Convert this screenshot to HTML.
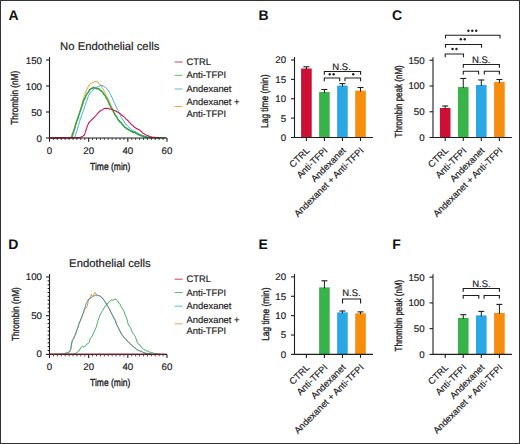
<!DOCTYPE html><html><head><meta charset="utf-8"><style>html,body{margin:0;padding:0;background:#fff}svg{display:block}text{font-family:"Liberation Sans",sans-serif;text-rendering:geometricPrecision}</style></head><body>
<svg width="520" height="444" viewBox="0 0 520 444">
<rect x="0" y="0" width="520" height="444" fill="#fff"/>
<text x="8.4" y="20.4" font-size="14" font-weight="bold" fill="#111">A</text>
<text x="258.6" y="20.2" font-size="14" font-weight="bold" fill="#111">B</text>
<text x="392.0" y="20.2" font-size="14" font-weight="bold" fill="#111">C</text>
<text x="8.2" y="249.3" font-size="14" font-weight="bold" fill="#111">D</text>
<text x="258.6" y="249.3" font-size="14" font-weight="bold" fill="#111">E</text>
<text x="392.2" y="249.3" font-size="14" font-weight="bold" fill="#111">F</text>
<polyline points="49.50,138.00 50.32,137.98 51.14,137.97 51.96,137.95 52.78,137.94 53.60,137.92 54.42,137.91 55.23,137.89 56.05,137.88 56.87,137.86 57.69,137.85 58.51,137.83 59.33,137.82 60.15,137.80 60.97,137.78 61.79,137.77 62.61,137.75 63.43,137.74 64.25,137.72 65.07,137.71 65.88,137.69 66.70,137.68 67.52,137.66 68.34,137.65 69.16,137.63 69.98,137.62 70.80,137.60 71.03,136.72 71.31,136.10 71.67,135.25 72.00,134.22 72.29,133.42 72.52,132.65 72.97,132.04 73.14,131.10 73.59,130.56 73.76,129.73 73.96,129.12 74.29,128.25 74.53,127.08 74.95,126.35 75.18,125.47 75.42,124.89 75.63,124.03 75.94,122.98 76.24,122.52 76.53,121.57 76.73,120.88 77.07,120.28 77.31,119.24 77.63,118.61 77.77,117.95 77.99,117.31 78.38,116.26 78.58,115.36 78.88,114.54 79.11,114.13 79.31,113.37 79.60,112.47 79.82,111.60 80.16,110.91 80.35,109.92 80.60,108.89 80.90,108.37 81.01,107.66 81.33,106.64 81.54,105.66 81.72,104.93 82.10,104.08 82.25,103.31 82.59,102.55 82.73,101.49 83.04,100.82 83.25,100.06 83.38,98.89 83.73,98.17 83.84,97.70 84.11,96.55 84.42,95.81 84.63,95.23 84.91,94.17 85.20,93.59 85.47,93.12 85.71,92.14 85.86,91.45 86.26,90.80 86.69,90.02 87.04,89.00 87.51,88.09 87.83,87.30 88.28,86.60 88.68,85.89 89.13,84.95 89.79,84.46 90.51,83.88 90.99,83.64 91.65,82.92 92.22,82.43 93.17,82.44 93.83,82.02 94.52,81.59 95.50,81.52 96.43,81.56 97.36,81.79 97.96,82.68 98.71,83.32 99.50,83.99 100.04,84.83 100.57,85.21 101.25,85.83 101.73,86.77 102.09,87.41 102.72,88.41 103.16,89.18 103.53,89.94 103.87,90.43 104.16,91.28 104.59,91.90 105.06,92.80 105.39,93.93 105.88,94.69 106.14,95.46 106.50,95.86 106.87,96.62 107.40,97.60 107.70,98.47 108.14,99.16 108.49,99.65 108.90,100.84 109.22,101.55 109.66,102.04 109.98,102.88 110.21,103.97 110.64,104.45 110.80,105.38 111.11,105.85 111.56,107.00 111.94,107.55 112.28,108.89 112.63,109.50 112.90,110.32 113.45,111.55 113.92,112.15 114.32,112.92 114.61,113.93 115.04,114.46 115.52,115.27 116.00,116.05 116.62,116.75 117.04,117.63 117.65,118.51 118.17,119.19 118.61,120.00 119.02,120.65 119.57,121.24 120.21,121.65 120.66,122.37 121.19,123.28 121.70,123.71 122.39,124.48 122.98,124.90 123.56,125.62 124.23,126.54 124.92,127.08 125.49,127.91 126.28,128.30 127.10,128.79 127.85,129.30 128.71,129.85 129.48,130.50 130.22,131.02 131.22,131.23 131.93,131.77 132.91,131.79 133.80,132.14 134.81,132.51 135.78,133.24 136.50,133.35 137.15,134.02 138.07,134.55 138.83,134.64 139.50,135.15 140.35,135.70 141.05,135.55 141.81,135.99 142.58,136.09 143.30,136.61 144.34,136.78 145.27,136.76 146.25,137.25 147.20,137.50 148.00,137.55 148.80,137.60 149.60,137.65 150.40,137.70 151.20,137.75 152.00,137.80" fill="none" stroke="#f68d0c" stroke-width="1.0" stroke-linejoin="round" stroke-linecap="round"/>
<polyline points="49.50,138.00 50.32,137.99 51.13,137.97 51.95,137.96 52.76,137.95 53.58,137.94 54.40,137.92 55.21,137.91 56.03,137.90 56.85,137.88 57.66,137.87 58.48,137.86 59.29,137.85 60.11,137.83 60.93,137.82 61.74,137.81 62.56,137.79 63.37,137.78 64.19,137.77 65.01,137.75 65.82,137.74 66.64,137.73 67.45,137.72 68.27,137.70 69.09,137.69 69.90,137.68 70.72,137.66 71.54,137.65 72.35,137.64 73.17,137.63 73.98,137.61 74.80,137.60 75.05,136.87 75.39,135.80 75.63,135.38 75.73,134.25 76.08,133.43 76.19,132.75 76.59,132.04 76.71,131.45 77.08,130.32 77.27,129.72 77.38,128.67 77.69,128.16 78.02,127.04 78.23,126.51 78.47,125.43 78.71,124.61 78.83,123.99 79.19,123.23 79.29,122.31 79.57,121.67 79.82,120.70 80.09,119.90 80.37,119.26 80.63,118.71 80.87,117.82 81.10,116.97 81.36,116.15 81.73,115.62 81.97,114.58 82.16,114.19 82.49,113.36 82.87,112.33 83.10,111.41 83.50,110.69 83.77,109.65 84.03,108.97 84.27,107.95 84.50,106.95 84.89,106.13 85.05,105.39 85.45,104.48 85.69,104.04 85.88,102.92 86.19,102.10 86.48,101.25 86.87,100.53 87.07,100.11 87.44,98.97 87.61,98.23 87.90,97.30 88.21,96.76 88.50,95.85 88.95,94.99 89.48,94.26 89.90,93.47 90.45,92.84 91.01,92.21 91.53,91.53 92.20,90.89 92.71,90.10 93.29,89.78 94.01,89.03 94.67,88.07 95.40,88.12 96.21,87.67 96.93,86.99 97.77,86.80 98.54,86.65 99.33,86.24 100.06,85.99 100.71,85.46 101.92,85.62 103.17,85.80 103.90,86.50 104.69,87.01 105.33,87.42 106.25,88.05 106.78,88.58 107.26,89.33 107.88,90.04 108.45,90.39 108.82,91.48 109.36,92.25 109.63,92.90 110.07,93.66 110.44,94.57 110.72,95.27 111.13,95.79 111.53,96.85 111.85,97.53 112.29,98.05 112.76,99.12 113.06,99.89 113.44,100.61 113.71,101.38 114.07,102.40 114.56,103.24 114.81,103.56 115.25,104.76 115.45,105.37 115.97,106.02 116.28,106.79 116.65,107.52 116.96,108.69 117.42,109.39 117.84,110.19 118.22,110.64 118.39,111.54 118.83,112.07 119.13,113.06 119.48,113.68 119.93,114.54 120.25,115.15 120.58,116.33 121.16,117.13 121.54,117.88 122.02,118.38 122.52,119.45 122.95,119.91 123.33,120.65 123.95,121.34 124.43,122.21 124.75,122.97 125.31,123.68 126.04,124.19 126.59,125.02 127.18,125.47 127.73,126.24 128.25,126.75 128.95,127.38 129.61,128.01 130.11,128.39 130.88,129.29 131.67,129.64 132.50,130.12 133.15,131.04 133.94,131.26 134.74,131.59 135.47,131.77 136.40,132.17 137.04,132.70 137.92,133.35 138.48,133.57 139.19,133.90 139.92,134.42 140.79,134.67 141.74,135.13 142.48,135.52 143.34,135.66 144.13,135.94 144.96,136.08 145.76,136.70 146.69,136.64 147.44,136.98 148.28,136.85 149.16,137.08 150.00,137.30 150.86,137.37 151.71,137.44 152.57,137.51 153.43,137.59 154.29,137.66 155.14,137.73 156.00,137.80" fill="none" stroke="#2aa8e6" stroke-width="1.0" stroke-linejoin="round" stroke-linecap="round"/>
<polyline points="49.50,138.00 50.33,137.99 51.15,137.97 51.98,137.96 52.80,137.94 53.63,137.93 54.46,137.91 55.28,137.90 56.11,137.88 56.93,137.87 57.76,137.85 58.59,137.84 59.41,137.82 60.24,137.81 61.06,137.79 61.89,137.78 62.71,137.76 63.54,137.75 64.37,137.73 65.19,137.72 66.02,137.70 66.84,137.69 67.67,137.67 68.50,137.66 69.32,137.64 70.15,137.63 70.97,137.61 71.80,137.60 72.18,137.27 72.10,136.40 72.62,134.77 72.77,134.84 72.82,133.74 73.44,132.76 73.65,132.40 73.65,131.76 73.86,130.11 74.32,129.71 74.58,129.32 74.84,128.21 75.00,127.21 75.34,125.98 75.63,125.37 75.63,124.97 75.86,123.64 76.28,123.34 76.29,122.05 76.75,121.69 76.86,120.79 77.04,120.23 77.48,119.17 77.81,119.06 78.00,118.22 78.17,116.80 78.61,116.76 78.59,115.34 79.11,114.76 79.20,113.92 79.74,113.35 79.66,112.09 80.09,111.38 80.27,110.91 80.76,110.21 80.82,109.10 81.13,108.74 81.37,107.77 81.86,106.36 82.21,105.61 82.17,105.00 82.51,103.94 82.97,103.59 82.99,102.29 83.46,101.57 83.34,100.71 83.71,99.85 84.15,99.90 84.67,98.90 84.87,98.26 85.57,96.69 85.60,96.55 86.13,95.76 86.50,94.77 86.75,93.87 87.28,93.28 87.57,93.26 88.00,92.56 88.63,91.26 89.07,91.10 89.69,89.71 90.47,89.41 90.85,88.61 91.31,88.70 92.40,88.01 92.87,88.17 93.65,87.23 94.50,87.92 95.53,88.05 96.06,87.94 96.97,88.86 97.79,88.46 98.39,88.89 99.35,88.95 100.08,90.24 100.61,90.64 101.37,90.61 102.13,92.01 102.43,92.11 103.10,92.83 103.55,94.10 104.35,94.75 104.93,95.55 105.33,96.11 105.73,96.59 106.00,97.82 106.65,98.00 106.76,98.81 107.34,99.37 107.89,100.43 108.28,101.80 108.30,102.00 108.85,102.65 109.21,104.08 109.58,104.42 110.07,105.62 110.56,106.50 110.68,107.16 111.17,108.09 111.62,108.57 111.96,109.49 112.40,109.75 113.08,110.42 113.29,111.62 113.98,112.21 114.11,113.09 114.70,114.17 114.91,115.12 115.63,115.37 116.18,116.51 116.45,116.47 116.93,117.32 117.60,118.94 118.03,119.66 118.58,120.37 119.23,120.39 119.48,121.71 120.20,122.00 120.61,122.25 121.06,122.81 121.74,123.55 122.21,124.60 122.90,124.61 123.47,125.93 124.11,126.21 124.89,127.35 125.34,127.26 126.30,128.14 126.90,128.92 127.92,128.98 128.53,129.77 129.58,130.21 130.29,130.61 131.10,131.06 132.20,131.96 132.80,131.84 133.73,132.58 134.94,132.23 135.83,133.02 136.61,133.43 137.09,133.90 138.00,133.87 138.90,134.92 139.55,134.79 140.28,135.33 140.97,135.37 142.01,136.00 142.62,135.85 143.59,136.80 144.20,136.45 145.49,137.44 146.25,137.25 147.20,137.50 148.00,137.55 148.80,137.60 149.60,137.65 150.40,137.70 151.20,137.75 152.00,137.80 152.81,137.80 153.62,137.80 154.44,137.80 155.25,137.80 156.06,137.80 156.88,137.80 157.69,137.80 158.50,137.80 159.31,137.80 160.12,137.80 160.94,137.80 161.75,137.80 162.56,137.80 163.38,137.80 164.19,137.80 165.00,137.80" fill="none" stroke="#2fa545" stroke-width="1.5" stroke-linejoin="round" stroke-linecap="round"/>
<polyline points="49.50,138.00 50.32,137.99 51.14,137.98 51.96,137.97 52.78,137.96 53.59,137.95 54.41,137.94 55.23,137.92 56.05,137.91 56.87,137.90 57.69,137.89 58.51,137.88 59.33,137.87 60.15,137.86 60.96,137.85 61.78,137.84 62.60,137.83 63.42,137.82 64.24,137.81 65.06,137.79 65.88,137.78 66.70,137.77 67.52,137.76 68.34,137.75 69.15,137.74 69.97,137.73 70.79,137.72 71.61,137.71 72.43,137.70 73.25,137.69 74.07,137.68 74.89,137.66 75.71,137.65 76.52,137.64 77.34,137.63 78.16,137.62 78.98,137.61 79.80,137.60 80.53,137.23 81.18,136.86 81.98,136.71 82.86,136.14 83.60,135.53 84.44,134.94 84.82,133.99 84.94,133.43 85.23,132.36 85.48,131.74 85.70,130.78 86.08,130.31 86.26,129.19 86.41,128.76 86.67,128.02 87.01,127.12 87.21,126.35 87.52,125.46 87.91,124.71 88.24,123.97 88.65,123.01 88.95,122.49 89.70,122.01 90.22,121.24 90.84,120.63 91.55,119.83 92.19,119.20 92.71,118.79 93.32,118.23 94.06,117.66 94.51,116.93 95.18,116.30 95.64,115.89 96.33,115.21 96.81,114.52 97.36,113.61 97.87,113.13 98.23,112.71 99.16,112.07 99.82,111.13 100.56,110.90 101.35,110.40 102.10,109.96 103.03,109.40 103.68,108.85 104.46,108.60 105.26,108.34 106.24,108.38 107.05,108.61 107.86,108.33 108.78,108.48 109.72,108.92 110.74,109.21 111.78,109.24 112.56,109.32 113.20,109.90 113.93,110.31 114.76,110.73 115.55,110.73 116.22,111.23 116.97,111.84 117.79,112.34 118.72,112.71 119.43,113.14 119.93,113.52 120.60,113.90 121.29,114.71 122.01,115.17 122.51,115.50 123.10,116.28 123.82,116.58 124.47,117.27 125.17,117.96 125.74,118.78 126.44,119.43 127.19,119.82 127.66,120.51 128.39,121.06 129.06,122.09 129.59,122.48 130.30,122.92 130.87,123.83 131.54,124.52 132.25,125.32 132.93,125.62 133.51,126.17 134.10,127.00 134.86,127.48 135.58,127.82 136.26,128.65 137.12,128.65 137.89,129.17 138.57,129.69 139.36,129.80 140.18,130.31 140.84,131.31 141.57,131.55 142.13,132.52 142.76,133.12 143.32,133.46 144.07,133.83 144.97,134.24 145.75,134.78 146.39,135.15 147.19,135.43 147.98,135.84 148.79,135.88 149.48,136.53 150.22,136.79 151.05,136.78 152.16,137.12 153.02,137.22 154.03,137.20 155.00,137.30 155.95,137.45 156.90,137.60 157.85,137.75 158.80,137.90" fill="none" stroke="#c51a55" stroke-width="1.1" stroke-linejoin="round" stroke-linecap="round"/>
<line x1="49.5" y1="57.0" x2="49.5" y2="138.5" stroke="#1e1e1e" stroke-width="1.1"/>
<line x1="46" y1="138.0" x2="49.5" y2="138.0" stroke="#1e1e1e" stroke-width="1.1"/>
<text x="42.0" y="141.6" font-size="9.7" text-anchor="end" fill="#222" stroke="#222" stroke-width="0.18" >0</text>
<line x1="46" y1="112.0" x2="49.5" y2="112.0" stroke="#1e1e1e" stroke-width="1.1"/>
<text x="42.0" y="115.6" font-size="9.7" text-anchor="end" fill="#222" stroke="#222" stroke-width="0.18" >50</text>
<line x1="46" y1="86.0" x2="49.5" y2="86.0" stroke="#1e1e1e" stroke-width="1.1"/>
<text x="42.0" y="89.6" font-size="9.7" text-anchor="end" fill="#222" stroke="#222" stroke-width="0.18" >100</text>
<line x1="46" y1="60.0" x2="49.5" y2="60.0" stroke="#1e1e1e" stroke-width="1.1"/>
<text x="42.0" y="63.6" font-size="9.7" text-anchor="end" fill="#222" stroke="#222" stroke-width="0.18" >150</text>
<line x1="49" y1="138" x2="167" y2="138" stroke="#1e1e1e" stroke-width="1.2"/>
<line x1="49.5" y1="138" x2="49.5" y2="141.7" stroke="#1e1e1e" stroke-width="1.1"/>
<text x="49.5" y="153.6" font-size="9.7" text-anchor="middle" fill="#222" stroke="#222" stroke-width="0.18" >0</text>
<line x1="88.66" y1="138" x2="88.66" y2="141.7" stroke="#1e1e1e" stroke-width="1.1"/>
<text x="88.66" y="153.6" font-size="9.7" text-anchor="middle" fill="#222" stroke="#222" stroke-width="0.18" >20</text>
<line x1="127.82" y1="138" x2="127.82" y2="141.7" stroke="#1e1e1e" stroke-width="1.1"/>
<text x="127.82" y="153.6" font-size="9.7" text-anchor="middle" fill="#222" stroke="#222" stroke-width="0.18" >40</text>
<line x1="166.98000000000002" y1="138" x2="166.98000000000002" y2="141.7" stroke="#1e1e1e" stroke-width="1.1"/>
<text x="166.98000000000002" y="153.6" font-size="9.7" text-anchor="middle" fill="#222" stroke="#222" stroke-width="0.18" >60</text>
<line x1="53.416" y1="138" x2="53.416" y2="140.0" stroke="#1e1e1e" stroke-width="0.8"/>
<line x1="57.332" y1="138" x2="57.332" y2="140.0" stroke="#1e1e1e" stroke-width="0.8"/>
<line x1="61.248" y1="138" x2="61.248" y2="140.0" stroke="#1e1e1e" stroke-width="0.8"/>
<line x1="65.164" y1="138" x2="65.164" y2="140.0" stroke="#1e1e1e" stroke-width="0.8"/>
<line x1="69.08" y1="138" x2="69.08" y2="140.0" stroke="#1e1e1e" stroke-width="0.8"/>
<line x1="72.996" y1="138" x2="72.996" y2="140.0" stroke="#1e1e1e" stroke-width="0.8"/>
<line x1="76.912" y1="138" x2="76.912" y2="140.0" stroke="#1e1e1e" stroke-width="0.8"/>
<line x1="80.828" y1="138" x2="80.828" y2="140.0" stroke="#1e1e1e" stroke-width="0.8"/>
<line x1="84.744" y1="138" x2="84.744" y2="140.0" stroke="#1e1e1e" stroke-width="0.8"/>
<line x1="92.576" y1="138" x2="92.576" y2="140.0" stroke="#1e1e1e" stroke-width="0.8"/>
<line x1="96.49199999999999" y1="138" x2="96.49199999999999" y2="140.0" stroke="#1e1e1e" stroke-width="0.8"/>
<line x1="100.408" y1="138" x2="100.408" y2="140.0" stroke="#1e1e1e" stroke-width="0.8"/>
<line x1="104.324" y1="138" x2="104.324" y2="140.0" stroke="#1e1e1e" stroke-width="0.8"/>
<line x1="108.24000000000001" y1="138" x2="108.24000000000001" y2="140.0" stroke="#1e1e1e" stroke-width="0.8"/>
<line x1="112.156" y1="138" x2="112.156" y2="140.0" stroke="#1e1e1e" stroke-width="0.8"/>
<line x1="116.072" y1="138" x2="116.072" y2="140.0" stroke="#1e1e1e" stroke-width="0.8"/>
<line x1="119.988" y1="138" x2="119.988" y2="140.0" stroke="#1e1e1e" stroke-width="0.8"/>
<line x1="123.904" y1="138" x2="123.904" y2="140.0" stroke="#1e1e1e" stroke-width="0.8"/>
<line x1="131.736" y1="138" x2="131.736" y2="140.0" stroke="#1e1e1e" stroke-width="0.8"/>
<line x1="135.652" y1="138" x2="135.652" y2="140.0" stroke="#1e1e1e" stroke-width="0.8"/>
<line x1="139.56799999999998" y1="138" x2="139.56799999999998" y2="140.0" stroke="#1e1e1e" stroke-width="0.8"/>
<line x1="143.48399999999998" y1="138" x2="143.48399999999998" y2="140.0" stroke="#1e1e1e" stroke-width="0.8"/>
<line x1="147.39999999999998" y1="138" x2="147.39999999999998" y2="140.0" stroke="#1e1e1e" stroke-width="0.8"/>
<line x1="151.316" y1="138" x2="151.316" y2="140.0" stroke="#1e1e1e" stroke-width="0.8"/>
<line x1="155.232" y1="138" x2="155.232" y2="140.0" stroke="#1e1e1e" stroke-width="0.8"/>
<line x1="159.148" y1="138" x2="159.148" y2="140.0" stroke="#1e1e1e" stroke-width="0.8"/>
<line x1="163.064" y1="138" x2="163.064" y2="140.0" stroke="#1e1e1e" stroke-width="0.8"/>
<polyline points="49.50,137.80 80.00,137.80" fill="none" stroke="#8a1630" stroke-width="1.1" stroke-linejoin="round" stroke-linecap="round"/>
<text transform="translate(110.25,169.5)" x="-20.15" y="0" font-size="10.2" textLength="40.3" lengthAdjust="spacingAndGlyphs" fill="#222" stroke="#222" stroke-width="0.35">Time (min)</text>
<text transform="translate(18.0,97.75) rotate(-90)" x="-26.90" y="0" font-size="10.2" textLength="53.8" lengthAdjust="spacingAndGlyphs" fill="#222" stroke="#222" stroke-width="0.35">Thrombin (nM)</text>
<text x="60.1" y="49.8" font-size="11.3" text-anchor="start" fill="#222" stroke="#222" stroke-width="0.18" >No Endothelial cells</text>
<line x1="174.6" y1="62" x2="182.6" y2="62" stroke="#cc1034" stroke-width="1" opacity="0.8"/>
<line x1="174.6" y1="75.3" x2="182.6" y2="75.3" stroke="#38b34a" stroke-width="1" opacity="0.8"/>
<line x1="174.6" y1="89" x2="182.6" y2="89" stroke="#2aa8e6" stroke-width="1" opacity="0.8"/>
<line x1="174.6" y1="106.6" x2="182.6" y2="106.6" stroke="#f68d0c" stroke-width="1" opacity="0.8"/>
<text x="186.6" y="64.8" font-size="9.4" text-anchor="start" fill="#222" stroke="#222" stroke-width="0.18" >CTRL</text>
<text x="186.6" y="78.3" font-size="9.4" text-anchor="start" fill="#222" stroke="#222" stroke-width="0.18" >Anti-TFPI</text>
<text x="186.6" y="91.8" font-size="9.4" text-anchor="start" fill="#222" stroke="#222" stroke-width="0.18" >Andexanet</text>
<text x="186.6" y="105.4" font-size="9.4" text-anchor="start" fill="#222" stroke="#222" stroke-width="0.18" >Andexanet +</text>
<text x="186.6" y="116.9" font-size="9.4" text-anchor="start" fill="#222" stroke="#222" stroke-width="0.18" >Anti-TFPI</text>
<polyline points="49.50,354.40 50.31,354.39 51.11,354.38 51.92,354.37 52.72,354.36 53.53,354.34 54.33,354.33 55.14,354.32 55.94,354.31 56.75,354.30 57.56,354.29 58.36,354.28 59.17,354.27 59.97,354.26 60.78,354.24 61.58,354.23 62.39,354.22 63.19,354.21 64.00,354.20 64.87,353.80 65.69,353.63 66.70,352.84 67.50,352.70 68.41,352.35 69.23,351.86 70.09,351.62 70.42,350.46 70.69,349.54 71.13,348.33 71.33,347.33 71.25,346.45 71.60,345.51 71.55,344.74 71.66,343.63 71.93,343.12 72.22,342.12 72.46,340.74 72.78,339.92 73.27,339.44 73.74,338.24 74.23,338.00 74.53,336.76 74.79,335.97 75.27,335.61 75.58,334.68 75.75,333.88 76.00,332.76 76.35,332.25 76.72,331.09 77.00,330.01 77.43,329.27 77.66,328.42 77.95,328.00 78.23,327.14 78.43,325.87 78.77,325.33 79.00,324.49 79.13,323.82 79.45,323.19 79.82,322.34 80.18,321.03 80.71,320.66 80.91,319.40 81.30,318.89 81.55,317.91 81.95,317.21 82.29,316.36 82.43,315.57 82.81,315.01 83.16,313.84 83.51,313.01 83.82,312.57 84.03,311.71 84.35,310.77 84.59,310.25 84.89,309.43 85.47,308.35 86.05,308.09 86.67,307.10 87.09,306.34 87.35,305.71 87.51,305.03 87.62,303.97 87.93,303.04 88.10,302.53 88.21,301.43 88.43,300.98 88.59,299.78 89.10,299.63 89.69,298.61 90.38,298.32 90.47,297.07 90.76,296.20 90.97,295.44 91.23,294.40 91.95,295.79 92.61,296.26 93.12,295.26 93.87,294.79 94.43,293.69 95.13,292.42 95.63,293.16 96.19,294.13 97.12,294.69 97.80,295.42 98.56,295.61 99.36,295.55 100.16,295.94 100.88,296.91 101.76,297.38 102.43,297.95 103.17,298.88 103.70,299.66 104.27,300.46 104.79,301.08 105.29,301.69 105.70,302.36 106.23,303.57 106.58,304.28 107.09,304.95 107.54,305.83 108.12,306.63 108.52,307.09 108.91,308.21 109.51,308.79 109.79,309.29 110.23,310.13 110.55,311.36 110.95,311.63 111.37,312.66 111.73,313.41 112.09,314.36 112.57,314.88 112.89,315.53 113.30,316.40 113.73,317.01 113.89,317.91 114.53,318.61 115.08,319.21 115.45,320.30 115.64,321.11 116.06,321.88 116.31,323.16 116.67,323.58 116.83,324.54 117.35,325.14 117.70,326.32 118.06,326.88 118.54,327.50 118.85,328.35 119.28,329.39 119.53,329.95 119.88,330.76 120.32,331.70 120.68,332.48 121.06,332.96 121.42,333.76 122.13,334.28 122.59,335.22 123.22,336.01 123.83,336.86 124.34,337.57 125.04,338.31 125.60,338.36 126.17,339.44 126.78,339.76 127.18,340.83 128.01,341.23 128.44,342.39 129.16,342.64 130.07,343.29 130.67,343.93 131.57,344.84 132.21,345.02 132.81,345.91 133.45,346.56 134.06,347.25 134.65,347.52 135.43,348.29 136.24,348.81 136.87,349.46 137.61,349.84 138.35,350.30 139.13,350.58 139.98,350.89 140.83,351.22 141.58,351.20 142.45,351.98 143.45,352.60 144.28,352.92 145.12,353.48 146.18,353.48 147.07,353.60 148.00,353.80 148.80,353.90 149.60,354.00 150.40,354.10 151.20,354.20 152.00,354.30" fill="none" stroke="#f68d0c" stroke-width="1.0" stroke-linejoin="round" stroke-linecap="round"/>
<polyline points="49.50,354.40 50.31,354.39 51.11,354.38 51.92,354.37 52.72,354.36 53.53,354.34 54.33,354.33 55.14,354.32 55.94,354.31 56.75,354.30 57.56,354.29 58.36,354.28 59.17,354.27 59.97,354.26 60.78,354.24 61.58,354.23 62.39,354.22 63.19,354.21 64.00,354.20 64.87,353.80 65.76,353.12 66.70,353.11 67.49,352.52 68.15,352.26 68.81,352.11 69.73,351.63 70.15,350.40 70.43,349.42 70.86,348.52 70.92,347.41 71.08,346.62 71.15,345.95 71.31,345.03 71.41,343.92 71.71,343.00 71.94,342.09 72.09,340.90 72.42,339.88 72.94,339.33 73.40,338.22 73.84,337.98 74.25,336.73 74.53,335.90 74.93,335.65 75.27,334.69 75.53,334.05 75.83,333.07 76.14,332.22 76.37,331.31 76.75,330.40 76.98,329.56 77.29,328.31 77.75,327.88 77.87,327.03 78.22,326.34 78.34,325.40 78.63,324.46 78.88,323.69 79.35,323.06 79.62,321.88 79.86,321.05 80.32,320.69 80.60,319.95 80.91,318.61 81.36,318.16 81.56,317.59 81.79,316.45 82.13,315.79 82.34,314.72 82.76,313.87 83.08,313.17 83.31,312.39 83.36,311.64 83.67,311.23 83.91,310.47 84.31,309.30 84.59,308.93 84.65,308.17 85.05,307.34 85.35,306.48 85.61,305.59 85.63,305.10 86.04,303.91 86.28,303.61 86.82,302.52 87.24,301.65 87.43,301.06 87.93,300.20 88.34,299.46 89.14,298.79 89.87,298.42 90.58,298.08 91.44,297.43 92.20,297.27 92.85,296.54 93.78,295.84 94.51,295.82 95.23,295.20 96.43,295.59 97.45,295.36 98.36,295.49 99.08,295.69 99.90,296.06 100.55,296.85 101.34,297.03 102.22,297.95 102.87,298.94 103.43,299.23 104.01,300.44 104.45,301.04 105.03,302.01 105.52,302.71 105.78,303.31 106.41,304.23 106.86,304.82 107.20,306.02 107.76,306.58 108.11,307.26 108.70,307.89 109.09,308.97 109.56,309.32 109.80,310.50 110.35,311.15 110.64,312.10 111.04,312.62 111.33,313.21 111.83,313.98 112.18,314.85 112.55,315.64 112.82,316.26 113.29,317.53 113.73,317.76 113.99,318.92 114.41,319.56 114.71,320.26 115.32,320.72 115.55,322.12 115.84,322.84 116.23,323.87 116.66,324.87 117.09,325.56 117.26,325.99 117.67,326.72 118.03,327.42 118.61,328.47 119.01,329.17 119.18,330.21 119.64,330.79 120.16,331.27 120.45,332.12 120.93,333.12 121.17,333.90 121.69,334.54 122.47,335.63 122.81,335.96 123.46,336.75 124.17,337.72 124.54,338.25 125.28,338.80 125.92,339.29 126.31,339.71 127.11,340.90 127.55,341.63 128.26,342.35 128.91,342.64 129.61,343.30 130.37,344.01 131.11,344.44 131.70,345.33 132.37,345.97 133.16,346.18 133.78,346.91 134.39,347.92 135.06,348.06 135.95,348.61 136.66,349.63 137.36,349.97 138.15,350.49 138.83,350.68 139.57,350.73 140.45,351.33 141.29,351.29 141.95,351.73 142.70,352.04 143.49,352.83 144.30,352.80 145.32,353.09 146.26,353.17 147.07,353.60 148.00,353.80 148.80,353.90 149.60,354.00 150.40,354.10 151.20,354.20 152.00,354.30" fill="none" stroke="#2a92c4" stroke-width="1.0" stroke-linejoin="round" stroke-linecap="round"/>
<polyline points="49.50,354.40 50.32,354.39 51.13,354.39 51.95,354.38 52.77,354.37 53.58,354.37 54.40,354.36 55.22,354.35 56.03,354.35 56.85,354.34 57.67,354.33 58.48,354.33 59.30,354.32 60.12,354.31 60.93,354.31 61.75,354.30 62.57,354.29 63.38,354.29 64.20,354.28 65.02,354.27 65.83,354.27 66.65,354.26 67.47,354.25 68.28,354.25 69.10,354.24 69.92,354.23 70.73,354.23 71.55,354.22 72.37,354.21 73.18,354.21 74.00,354.20 74.87,353.80 75.84,353.09 76.52,353.12 77.31,352.25 78.05,351.36 79.04,350.70 79.54,350.38 79.87,348.98 80.33,348.78 80.91,347.89 81.35,347.30 81.96,346.41 82.63,346.21 83.54,346.97 84.28,346.78 84.80,346.69 85.35,345.85 86.10,344.98 86.52,344.75 87.25,343.77 88.13,343.61 88.82,342.84 89.22,342.20 89.46,341.45 89.58,340.14 89.94,339.63 90.11,338.74 90.45,337.92 91.35,337.34 91.86,336.50 92.38,335.95 92.70,335.09 93.24,333.78 93.44,333.07 93.94,332.24 94.31,331.15 94.63,330.70 95.02,329.72 95.39,329.45 95.67,328.35 96.01,327.63 96.38,326.65 96.60,326.52 96.84,325.31 96.93,324.43 97.22,323.83 97.42,322.38 97.86,321.53 97.89,320.47 98.21,320.09 98.63,318.76 98.91,318.30 99.09,317.54 99.56,316.81 99.69,315.38 100.20,314.91 100.49,313.98 100.90,313.28 101.50,312.63 101.82,311.54 102.11,311.17 102.78,310.47 103.10,309.40 103.59,308.96 104.16,307.89 104.45,307.39 105.03,306.27 105.78,305.65 106.34,305.16 106.90,304.42 107.38,303.29 108.07,303.32 108.50,302.22 109.06,301.89 109.68,301.22 110.50,300.55 111.30,299.96 112.38,300.33 113.74,299.81 114.66,299.37 115.27,299.07 115.91,299.50 116.49,300.12 117.24,300.63 117.63,301.28 118.26,301.96 118.79,303.02 119.47,303.31 120.03,303.93 120.38,305.29 120.74,305.59 121.03,306.55 121.40,307.04 121.97,307.93 122.43,308.70 123.01,309.34 123.53,310.64 123.84,311.29 124.16,311.87 124.41,312.89 124.69,313.84 124.93,314.47 125.38,315.18 125.77,316.07 126.08,316.58 126.43,317.95 126.74,318.66 127.12,319.39 127.30,320.32 127.34,321.14 127.68,322.56 127.92,323.14 128.27,324.56 128.70,325.10 129.42,326.47 129.88,326.68 130.55,327.60 130.93,328.55 131.16,329.47 131.55,330.18 131.81,330.97 132.20,331.76 132.37,332.62 132.66,333.36 133.40,334.06 134.08,334.65 134.50,335.48 135.20,336.40 135.37,337.04 135.69,337.69 135.94,338.64 136.32,339.16 136.55,339.92 136.90,340.98 136.98,341.55 137.15,342.10 137.42,342.85 138.05,343.66 138.88,344.39 139.79,344.84 140.12,345.69 140.81,346.08 141.07,346.56 141.77,347.52 142.43,348.34 143.06,348.65 143.50,349.21 144.24,349.73 145.08,349.90 145.95,350.30 146.61,350.92 147.34,350.82 148.18,351.33 149.05,351.75 149.72,352.33 150.53,352.26 151.24,352.85 152.16,352.72 152.80,352.67 153.72,353.43 154.31,353.31 155.25,353.78 156.00,353.63 156.80,353.77 157.60,353.90 158.40,354.03 159.20,354.17 160.00,354.30" fill="none" stroke="#33a455" stroke-width="1.0" stroke-linejoin="round" stroke-linecap="round"/>
<line x1="49.5" y1="274.0" x2="49.5" y2="354.9" stroke="#1e1e1e" stroke-width="1.1"/>
<line x1="46" y1="354.4" x2="49.5" y2="354.4" stroke="#1e1e1e" stroke-width="1.1"/>
<text x="42.0" y="357.2" font-size="9.7" text-anchor="end" fill="#222" stroke="#222" stroke-width="0.18" >0</text>
<line x1="46" y1="315.7" x2="49.5" y2="315.7" stroke="#1e1e1e" stroke-width="1.1"/>
<text x="42.0" y="318.5" font-size="9.7" text-anchor="end" fill="#222" stroke="#222" stroke-width="0.18" >50</text>
<line x1="46" y1="277.0" x2="49.5" y2="277.0" stroke="#1e1e1e" stroke-width="1.1"/>
<text x="42.0" y="279.8" font-size="9.7" text-anchor="end" fill="#222" stroke="#222" stroke-width="0.18" >100</text>
<line x1="47.6" y1="350.53" x2="49.5" y2="350.53" stroke="#1e1e1e" stroke-width="1.05"/>
<line x1="47.6" y1="346.65999999999997" x2="49.5" y2="346.65999999999997" stroke="#1e1e1e" stroke-width="1.05"/>
<line x1="47.6" y1="342.78999999999996" x2="49.5" y2="342.78999999999996" stroke="#1e1e1e" stroke-width="1.05"/>
<line x1="47.6" y1="338.91999999999996" x2="49.5" y2="338.91999999999996" stroke="#1e1e1e" stroke-width="1.05"/>
<line x1="47.6" y1="335.04999999999995" x2="49.5" y2="335.04999999999995" stroke="#1e1e1e" stroke-width="1.05"/>
<line x1="47.6" y1="331.17999999999995" x2="49.5" y2="331.17999999999995" stroke="#1e1e1e" stroke-width="1.05"/>
<line x1="47.6" y1="327.31" x2="49.5" y2="327.31" stroke="#1e1e1e" stroke-width="1.05"/>
<line x1="47.6" y1="323.44" x2="49.5" y2="323.44" stroke="#1e1e1e" stroke-width="1.05"/>
<line x1="47.6" y1="319.57" x2="49.5" y2="319.57" stroke="#1e1e1e" stroke-width="1.05"/>
<line x1="47.6" y1="311.83" x2="49.5" y2="311.83" stroke="#1e1e1e" stroke-width="1.05"/>
<line x1="47.6" y1="307.96" x2="49.5" y2="307.96" stroke="#1e1e1e" stroke-width="1.05"/>
<line x1="47.6" y1="304.09" x2="49.5" y2="304.09" stroke="#1e1e1e" stroke-width="1.05"/>
<line x1="47.6" y1="300.21999999999997" x2="49.5" y2="300.21999999999997" stroke="#1e1e1e" stroke-width="1.05"/>
<line x1="47.6" y1="296.34999999999997" x2="49.5" y2="296.34999999999997" stroke="#1e1e1e" stroke-width="1.05"/>
<line x1="47.6" y1="292.47999999999996" x2="49.5" y2="292.47999999999996" stroke="#1e1e1e" stroke-width="1.05"/>
<line x1="47.6" y1="288.60999999999996" x2="49.5" y2="288.60999999999996" stroke="#1e1e1e" stroke-width="1.05"/>
<line x1="47.6" y1="284.74" x2="49.5" y2="284.74" stroke="#1e1e1e" stroke-width="1.05"/>
<line x1="47.6" y1="280.87" x2="49.5" y2="280.87" stroke="#1e1e1e" stroke-width="1.05"/>
<line x1="49" y1="354.4" x2="167" y2="354.4" stroke="#1e1e1e" stroke-width="1.2"/>
<line x1="49.5" y1="354.4" x2="49.5" y2="358.09999999999997" stroke="#1e1e1e" stroke-width="1.1"/>
<text x="49.5" y="370.0" font-size="9.7" text-anchor="middle" fill="#222" stroke="#222" stroke-width="0.18" >0</text>
<line x1="88.66" y1="354.4" x2="88.66" y2="358.09999999999997" stroke="#1e1e1e" stroke-width="1.1"/>
<text x="88.66" y="370.0" font-size="9.7" text-anchor="middle" fill="#222" stroke="#222" stroke-width="0.18" >20</text>
<line x1="127.82" y1="354.4" x2="127.82" y2="358.09999999999997" stroke="#1e1e1e" stroke-width="1.1"/>
<text x="127.82" y="370.0" font-size="9.7" text-anchor="middle" fill="#222" stroke="#222" stroke-width="0.18" >40</text>
<line x1="166.98000000000002" y1="354.4" x2="166.98000000000002" y2="358.09999999999997" stroke="#1e1e1e" stroke-width="1.1"/>
<text x="166.98000000000002" y="370.0" font-size="9.7" text-anchor="middle" fill="#222" stroke="#222" stroke-width="0.18" >60</text>
<line x1="53.416" y1="354.4" x2="53.416" y2="356.4" stroke="#1e1e1e" stroke-width="0.8"/>
<line x1="57.332" y1="354.4" x2="57.332" y2="356.4" stroke="#1e1e1e" stroke-width="0.8"/>
<line x1="61.248" y1="354.4" x2="61.248" y2="356.4" stroke="#1e1e1e" stroke-width="0.8"/>
<line x1="65.164" y1="354.4" x2="65.164" y2="356.4" stroke="#1e1e1e" stroke-width="0.8"/>
<line x1="69.08" y1="354.4" x2="69.08" y2="356.4" stroke="#1e1e1e" stroke-width="0.8"/>
<line x1="72.996" y1="354.4" x2="72.996" y2="356.4" stroke="#1e1e1e" stroke-width="0.8"/>
<line x1="76.912" y1="354.4" x2="76.912" y2="356.4" stroke="#1e1e1e" stroke-width="0.8"/>
<line x1="80.828" y1="354.4" x2="80.828" y2="356.4" stroke="#1e1e1e" stroke-width="0.8"/>
<line x1="84.744" y1="354.4" x2="84.744" y2="356.4" stroke="#1e1e1e" stroke-width="0.8"/>
<line x1="92.576" y1="354.4" x2="92.576" y2="356.4" stroke="#1e1e1e" stroke-width="0.8"/>
<line x1="96.49199999999999" y1="354.4" x2="96.49199999999999" y2="356.4" stroke="#1e1e1e" stroke-width="0.8"/>
<line x1="100.408" y1="354.4" x2="100.408" y2="356.4" stroke="#1e1e1e" stroke-width="0.8"/>
<line x1="104.324" y1="354.4" x2="104.324" y2="356.4" stroke="#1e1e1e" stroke-width="0.8"/>
<line x1="108.24000000000001" y1="354.4" x2="108.24000000000001" y2="356.4" stroke="#1e1e1e" stroke-width="0.8"/>
<line x1="112.156" y1="354.4" x2="112.156" y2="356.4" stroke="#1e1e1e" stroke-width="0.8"/>
<line x1="116.072" y1="354.4" x2="116.072" y2="356.4" stroke="#1e1e1e" stroke-width="0.8"/>
<line x1="119.988" y1="354.4" x2="119.988" y2="356.4" stroke="#1e1e1e" stroke-width="0.8"/>
<line x1="123.904" y1="354.4" x2="123.904" y2="356.4" stroke="#1e1e1e" stroke-width="0.8"/>
<line x1="131.736" y1="354.4" x2="131.736" y2="356.4" stroke="#1e1e1e" stroke-width="0.8"/>
<line x1="135.652" y1="354.4" x2="135.652" y2="356.4" stroke="#1e1e1e" stroke-width="0.8"/>
<line x1="139.56799999999998" y1="354.4" x2="139.56799999999998" y2="356.4" stroke="#1e1e1e" stroke-width="0.8"/>
<line x1="143.48399999999998" y1="354.4" x2="143.48399999999998" y2="356.4" stroke="#1e1e1e" stroke-width="0.8"/>
<line x1="147.39999999999998" y1="354.4" x2="147.39999999999998" y2="356.4" stroke="#1e1e1e" stroke-width="0.8"/>
<line x1="151.316" y1="354.4" x2="151.316" y2="356.4" stroke="#1e1e1e" stroke-width="0.8"/>
<line x1="155.232" y1="354.4" x2="155.232" y2="356.4" stroke="#1e1e1e" stroke-width="0.8"/>
<line x1="159.148" y1="354.4" x2="159.148" y2="356.4" stroke="#1e1e1e" stroke-width="0.8"/>
<line x1="163.064" y1="354.4" x2="163.064" y2="356.4" stroke="#1e1e1e" stroke-width="0.8"/>
<polyline points="49.50,354.20 165.00,354.20" fill="none" stroke="#8a1630" stroke-width="1.1" stroke-linejoin="round" stroke-linecap="round"/>
<text transform="translate(110.25,386)" x="-20.15" y="0" font-size="10.2" textLength="40.3" lengthAdjust="spacingAndGlyphs" fill="#222" stroke="#222" stroke-width="0.35">Time (min)</text>
<text transform="translate(18.8,314.15) rotate(-90)" x="-26.90" y="0" font-size="10.2" textLength="53.8" lengthAdjust="spacingAndGlyphs" fill="#222" stroke="#222" stroke-width="0.35">Thrombin (nM)</text>
<text x="69.1" y="267" font-size="11.3" text-anchor="start" fill="#222" stroke="#222" stroke-width="0.18" >Endothelial cells</text>
<line x1="174.6" y1="279.2" x2="182.6" y2="279.2" stroke="#cc1034" stroke-width="1" opacity="0.8"/>
<line x1="174.6" y1="292.5" x2="182.6" y2="292.5" stroke="#38b34a" stroke-width="1" opacity="0.8"/>
<line x1="174.6" y1="306.2" x2="182.6" y2="306.2" stroke="#2aa8e6" stroke-width="1" opacity="0.8"/>
<line x1="174.6" y1="323.79999999999995" x2="182.6" y2="323.79999999999995" stroke="#f68d0c" stroke-width="1" opacity="0.8"/>
<text x="186.6" y="282.0" font-size="9.4" text-anchor="start" fill="#222" stroke="#222" stroke-width="0.18" >CTRL</text>
<text x="186.6" y="295.5" font-size="9.4" text-anchor="start" fill="#222" stroke="#222" stroke-width="0.18" >Anti-TFPI</text>
<text x="186.6" y="309.0" font-size="9.4" text-anchor="start" fill="#222" stroke="#222" stroke-width="0.18" >Andexanet</text>
<text x="186.6" y="322.6" font-size="9.4" text-anchor="start" fill="#222" stroke="#222" stroke-width="0.18" >Andexanet +</text>
<text x="186.6" y="334.1" font-size="9.4" text-anchor="start" fill="#222" stroke="#222" stroke-width="0.18" >Anti-TFPI</text>
<rect x="301.10" y="68.52" width="10.6" height="68.98" fill="#cc1034"/>
<line x1="306.4" y1="66.78125" x2="306.4" y2="69.52499999999999" stroke="#1e1e1e" stroke-width="1"/>
<line x1="303.4" y1="66.78125" x2="309.4" y2="66.78125" stroke="#1e1e1e" stroke-width="1.1"/>
<rect x="319.10" y="92.01" width="10.6" height="45.49" fill="#38b34a"/>
<line x1="324.4" y1="89.48875" x2="324.4" y2="93.0075" stroke="#1e1e1e" stroke-width="1"/>
<line x1="321.4" y1="89.48875" x2="327.4" y2="89.48875" stroke="#1e1e1e" stroke-width="1.1"/>
<rect x="337.15" y="85.57" width="10.6" height="51.93" fill="#2aa8e6"/>
<line x1="342.45" y1="83.63749999999999" x2="342.45" y2="86.57499999999999" stroke="#1e1e1e" stroke-width="1"/>
<line x1="339.45" y1="83.63749999999999" x2="345.45" y2="83.63749999999999" stroke="#1e1e1e" stroke-width="1.1"/>
<rect x="355.20" y="90.61" width="10.6" height="46.89" fill="#f68d0c"/>
<line x1="360.5" y1="87.51249999999999" x2="360.5" y2="91.61250000000001" stroke="#1e1e1e" stroke-width="1"/>
<line x1="357.5" y1="87.51249999999999" x2="363.5" y2="87.51249999999999" stroke="#1e1e1e" stroke-width="1.1"/>
<line x1="294.5" y1="57.0" x2="294.5" y2="138.0" stroke="#1e1e1e" stroke-width="1.1"/>
<line x1="291.0" y1="137.5" x2="294.5" y2="137.5" stroke="#1e1e1e" stroke-width="1.1"/>
<text x="286.1" y="140.9" font-size="9.7" text-anchor="end" fill="#222" stroke="#222" stroke-width="0.18" >0</text>
<line x1="291.0" y1="118.125" x2="294.5" y2="118.125" stroke="#1e1e1e" stroke-width="1.1"/>
<text x="286.1" y="121.525" font-size="9.7" text-anchor="end" fill="#222" stroke="#222" stroke-width="0.18" >5</text>
<line x1="291.0" y1="98.75" x2="294.5" y2="98.75" stroke="#1e1e1e" stroke-width="1.1"/>
<text x="286.1" y="102.15" font-size="9.7" text-anchor="end" fill="#222" stroke="#222" stroke-width="0.18" >10</text>
<line x1="291.0" y1="79.375" x2="294.5" y2="79.375" stroke="#1e1e1e" stroke-width="1.1"/>
<text x="286.1" y="82.775" font-size="9.7" text-anchor="end" fill="#222" stroke="#222" stroke-width="0.18" >15</text>
<line x1="291.0" y1="60.0" x2="294.5" y2="60.0" stroke="#1e1e1e" stroke-width="1.1"/>
<text x="286.1" y="63.4" font-size="9.7" text-anchor="end" fill="#222" stroke="#222" stroke-width="0.18" >20</text>
<line x1="294.5" y1="137.5" x2="373.0" y2="137.5" stroke="#1e1e1e" stroke-width="1.2"/>
<line x1="306.4" y1="137.5" x2="306.4" y2="141.0" stroke="#1e1e1e" stroke-width="1.1"/>
<line x1="324.4" y1="137.5" x2="324.4" y2="141.0" stroke="#1e1e1e" stroke-width="1.1"/>
<line x1="342.45" y1="137.5" x2="342.45" y2="141.0" stroke="#1e1e1e" stroke-width="1.1"/>
<line x1="360.5" y1="137.5" x2="360.5" y2="141.0" stroke="#1e1e1e" stroke-width="1.1"/>
<text transform="translate(310.20,151.10) rotate(-45)" font-size="9.3" text-anchor="end" fill="#222" stroke="#222" stroke-width="0.18">CTRL</text>
<text transform="translate(328.20,151.10) rotate(-45)" font-size="9.3" text-anchor="end" fill="#222" stroke="#222" stroke-width="0.18">Anti-TFPI</text>
<text transform="translate(346.25,151.10) rotate(-45)" font-size="9.3" text-anchor="end" fill="#222" stroke="#222" stroke-width="0.18">Andexanet</text>
<text transform="translate(364.30,151.10) rotate(-45)" font-size="9.3" text-anchor="end" fill="#222" stroke="#222" stroke-width="0.18">Andexanet + Anti-TFPI</text>
<text transform="translate(268,101.25) rotate(-90)" x="-26.65" y="0" font-size="10.2" textLength="53.3" lengthAdjust="spacingAndGlyphs" fill="#222" stroke="#222" stroke-width="0.35">Lag time (min)</text>
<polyline points="324.3,74.7 324.3,71.5 360.6,71.5 360.6,74.7" fill="none" stroke="#1e1e1e" stroke-width="1.1"/>
<polyline points="324.3,81.2 324.3,78.0 339.7,78.0 339.7,81.2" fill="none" stroke="#1e1e1e" stroke-width="1.1"/>
<polyline points="345.0,81.2 345.0,78.0 360.6,78.0 360.6,81.2" fill="none" stroke="#1e1e1e" stroke-width="1.1"/>
<text x="341.6" y="69.5" font-size="9.5" text-anchor="middle" fill="#222" stroke="#222" stroke-width="0.18" >N.S.</text>
<circle cx="329.75" cy="74.2" r="1.2" fill="#1e1e1e"/>
<circle cx="333.65" cy="74.2" r="1.2" fill="#1e1e1e"/>
<circle cx="353.20" cy="74.2" r="1.2" fill="#1e1e1e"/>
<rect x="439.90" y="107.99" width="10.6" height="29.51" fill="#cc1034"/>
<line x1="445.2" y1="105.982" x2="445.2" y2="108.9905" stroke="#1e1e1e" stroke-width="1"/>
<line x1="442.2" y1="105.982" x2="448.2" y2="105.982" stroke="#1e1e1e" stroke-width="1.1"/>
<rect x="457.95" y="87.03" width="10.6" height="50.47" fill="#38b34a"/>
<line x1="463.25" y1="78.481" x2="463.25" y2="88.03" stroke="#1e1e1e" stroke-width="1"/>
<line x1="460.25" y1="78.481" x2="466.25" y2="78.481" stroke="#1e1e1e" stroke-width="1.1"/>
<rect x="476.00" y="84.97" width="10.6" height="52.53" fill="#2aa8e6"/>
<line x1="481.3" y1="79.9745" x2="481.3" y2="85.97" stroke="#1e1e1e" stroke-width="1"/>
<line x1="478.3" y1="79.9745" x2="484.3" y2="79.9745" stroke="#1e1e1e" stroke-width="1.1"/>
<rect x="494.10" y="81.98" width="10.6" height="55.52" fill="#f68d0c"/>
<line x1="499.4" y1="79.511" x2="499.4" y2="82.983" stroke="#1e1e1e" stroke-width="1"/>
<line x1="496.4" y1="79.511" x2="502.4" y2="79.511" stroke="#1e1e1e" stroke-width="1.1"/>
<line x1="433" y1="57.25" x2="433" y2="138.0" stroke="#1e1e1e" stroke-width="1.1"/>
<line x1="429.5" y1="137.5" x2="433" y2="137.5" stroke="#1e1e1e" stroke-width="1.1"/>
<text x="424.6" y="140.9" font-size="9.7" text-anchor="end" fill="#222" stroke="#222" stroke-width="0.18" >0</text>
<line x1="429.5" y1="111.75" x2="433" y2="111.75" stroke="#1e1e1e" stroke-width="1.1"/>
<text x="424.6" y="115.15" font-size="9.7" text-anchor="end" fill="#222" stroke="#222" stroke-width="0.18" >50</text>
<line x1="429.5" y1="86.0" x2="433" y2="86.0" stroke="#1e1e1e" stroke-width="1.1"/>
<text x="424.6" y="89.4" font-size="9.7" text-anchor="end" fill="#222" stroke="#222" stroke-width="0.18" >100</text>
<line x1="429.5" y1="60.25" x2="433" y2="60.25" stroke="#1e1e1e" stroke-width="1.1"/>
<text x="424.6" y="63.65" font-size="9.7" text-anchor="end" fill="#222" stroke="#222" stroke-width="0.18" >150</text>
<line x1="433" y1="137.5" x2="511.9" y2="137.5" stroke="#1e1e1e" stroke-width="1.2"/>
<line x1="445.2" y1="137.5" x2="445.2" y2="141.0" stroke="#1e1e1e" stroke-width="1.1"/>
<line x1="463.25" y1="137.5" x2="463.25" y2="141.0" stroke="#1e1e1e" stroke-width="1.1"/>
<line x1="481.3" y1="137.5" x2="481.3" y2="141.0" stroke="#1e1e1e" stroke-width="1.1"/>
<line x1="499.4" y1="137.5" x2="499.4" y2="141.0" stroke="#1e1e1e" stroke-width="1.1"/>
<text transform="translate(449.00,151.10) rotate(-45)" font-size="9.3" text-anchor="end" fill="#222" stroke="#222" stroke-width="0.18">CTRL</text>
<text transform="translate(467.05,151.10) rotate(-45)" font-size="9.3" text-anchor="end" fill="#222" stroke="#222" stroke-width="0.18">Anti-TFPI</text>
<text transform="translate(485.10,151.10) rotate(-45)" font-size="9.3" text-anchor="end" fill="#222" stroke="#222" stroke-width="0.18">Andexanet</text>
<text transform="translate(503.20,151.10) rotate(-45)" font-size="9.3" text-anchor="end" fill="#222" stroke="#222" stroke-width="0.18">Andexanet + Anti-TFPI</text>
<text transform="translate(401.7,101.35) rotate(-90)" x="-36.10" y="0" font-size="10.2" textLength="72.2" lengthAdjust="spacingAndGlyphs" fill="#222" stroke="#222" stroke-width="0.35">Thrombin peak (nM)</text>
<polyline points="445.5,38.5 445.5,35.3 500,35.3 500,38.5" fill="none" stroke="#1e1e1e" stroke-width="1.1"/>
<polyline points="445.5,47.7 445.5,44.5 481.5,44.5 481.5,47.7" fill="none" stroke="#1e1e1e" stroke-width="1.1"/>
<polyline points="445.2,57.2 445.2,54 463.5,54 463.5,57.2" fill="none" stroke="#1e1e1e" stroke-width="1.1"/>
<polyline points="463.3,67.7 463.3,64.5 499.4,64.5 499.4,67.7" fill="none" stroke="#1e1e1e" stroke-width="1.1"/>
<polyline points="463.3,74.5 463.3,71.3 478.6,71.3 478.6,74.5" fill="none" stroke="#1e1e1e" stroke-width="1.1"/>
<polyline points="484.3,74.5 484.3,71.3 499.4,71.3 499.4,74.5" fill="none" stroke="#1e1e1e" stroke-width="1.1"/>
<circle cx="468.40" cy="30.8" r="1.2" fill="#1e1e1e"/>
<circle cx="472.30" cy="30.8" r="1.2" fill="#1e1e1e"/>
<circle cx="476.20" cy="30.8" r="1.2" fill="#1e1e1e"/>
<circle cx="460.85" cy="39.3" r="1.2" fill="#1e1e1e"/>
<circle cx="464.75" cy="39.3" r="1.2" fill="#1e1e1e"/>
<circle cx="452.55" cy="49" r="1.2" fill="#1e1e1e"/>
<circle cx="456.45" cy="49" r="1.2" fill="#1e1e1e"/>
<text x="481.2" y="62.5" font-size="9.5" text-anchor="middle" fill="#222" stroke="#222" stroke-width="0.18" >N.S.</text>
<rect x="319.10" y="287.36" width="10.6" height="67.04" fill="#38b34a"/>
<line x1="324.4" y1="280.775" x2="324.4" y2="288.36249999999995" stroke="#1e1e1e" stroke-width="1"/>
<line x1="321.4" y1="280.775" x2="327.4" y2="280.775" stroke="#1e1e1e" stroke-width="1.1"/>
<rect x="337.15" y="312.39" width="10.6" height="42.00" fill="#2aa8e6"/>
<line x1="342.45" y1="311.0" x2="342.45" y2="313.395" stroke="#1e1e1e" stroke-width="1"/>
<line x1="339.45" y1="311.0" x2="345.45" y2="311.0" stroke="#1e1e1e" stroke-width="1.1"/>
<rect x="355.20" y="313.32" width="10.6" height="41.07" fill="#f68d0c"/>
<line x1="360.5" y1="311.89124999999996" x2="360.5" y2="314.325" stroke="#1e1e1e" stroke-width="1"/>
<line x1="357.5" y1="311.89124999999996" x2="363.5" y2="311.89124999999996" stroke="#1e1e1e" stroke-width="1.1"/>
<line x1="294.5" y1="273.9" x2="294.5" y2="354.9" stroke="#1e1e1e" stroke-width="1.1"/>
<line x1="291.0" y1="354.4" x2="294.5" y2="354.4" stroke="#1e1e1e" stroke-width="1.1"/>
<text x="286.1" y="357.79999999999995" font-size="9.7" text-anchor="end" fill="#222" stroke="#222" stroke-width="0.18" >0</text>
<line x1="291.0" y1="335.025" x2="294.5" y2="335.025" stroke="#1e1e1e" stroke-width="1.1"/>
<text x="286.1" y="338.42499999999995" font-size="9.7" text-anchor="end" fill="#222" stroke="#222" stroke-width="0.18" >5</text>
<line x1="291.0" y1="315.65" x2="294.5" y2="315.65" stroke="#1e1e1e" stroke-width="1.1"/>
<text x="286.1" y="319.04999999999995" font-size="9.7" text-anchor="end" fill="#222" stroke="#222" stroke-width="0.18" >10</text>
<line x1="291.0" y1="296.275" x2="294.5" y2="296.275" stroke="#1e1e1e" stroke-width="1.1"/>
<text x="286.1" y="299.67499999999995" font-size="9.7" text-anchor="end" fill="#222" stroke="#222" stroke-width="0.18" >15</text>
<line x1="291.0" y1="276.9" x2="294.5" y2="276.9" stroke="#1e1e1e" stroke-width="1.1"/>
<text x="286.1" y="280.29999999999995" font-size="9.7" text-anchor="end" fill="#222" stroke="#222" stroke-width="0.18" >20</text>
<line x1="294.5" y1="354.4" x2="373.0" y2="354.4" stroke="#1e1e1e" stroke-width="1.2"/>
<line x1="306.4" y1="354.4" x2="306.4" y2="357.9" stroke="#1e1e1e" stroke-width="1.1"/>
<line x1="324.4" y1="354.4" x2="324.4" y2="357.9" stroke="#1e1e1e" stroke-width="1.1"/>
<line x1="342.45" y1="354.4" x2="342.45" y2="357.9" stroke="#1e1e1e" stroke-width="1.1"/>
<line x1="360.5" y1="354.4" x2="360.5" y2="357.9" stroke="#1e1e1e" stroke-width="1.1"/>
<text transform="translate(310.20,368.00) rotate(-45)" font-size="9.3" text-anchor="end" fill="#222" stroke="#222" stroke-width="0.18">CTRL</text>
<text transform="translate(328.20,368.00) rotate(-45)" font-size="9.3" text-anchor="end" fill="#222" stroke="#222" stroke-width="0.18">Anti-TFPI</text>
<text transform="translate(346.25,368.00) rotate(-45)" font-size="9.3" text-anchor="end" fill="#222" stroke="#222" stroke-width="0.18">Andexanet</text>
<text transform="translate(364.30,368.00) rotate(-45)" font-size="9.3" text-anchor="end" fill="#222" stroke="#222" stroke-width="0.18">Andexanet + Anti-TFPI</text>
<text transform="translate(268.7,314.15) rotate(-90)" x="-26.65" y="0" font-size="10.2" textLength="53.3" lengthAdjust="spacingAndGlyphs" fill="#222" stroke="#222" stroke-width="0.35">Lag time (min)</text>
<polyline points="342.5,303.5 342.5,299 360.6,299 360.6,303.5" fill="none" stroke="#1e1e1e" stroke-width="1.1"/>
<text x="351.4" y="296" font-size="9.5" text-anchor="middle" fill="#222" stroke="#222" stroke-width="0.18" >N.S.</text>
<rect x="457.95" y="317.89" width="10.6" height="36.51" fill="#38b34a"/>
<line x1="463.25" y1="314.6935" x2="463.25" y2="318.88649999999996" stroke="#1e1e1e" stroke-width="1"/>
<line x1="460.25" y1="314.6935" x2="466.25" y2="314.6935" stroke="#1e1e1e" stroke-width="1.1"/>
<rect x="476.00" y="315.41" width="10.6" height="38.99" fill="#2aa8e6"/>
<line x1="481.3" y1="311.3975" x2="481.3" y2="316.4145" stroke="#1e1e1e" stroke-width="1"/>
<line x1="478.3" y1="311.3975" x2="484.3" y2="311.3975" stroke="#1e1e1e" stroke-width="1.1"/>
<rect x="494.10" y="312.89" width="10.6" height="41.51" fill="#f68d0c"/>
<line x1="499.4" y1="304.39349999999996" x2="499.4" y2="313.89099999999996" stroke="#1e1e1e" stroke-width="1"/>
<line x1="496.4" y1="304.39349999999996" x2="502.4" y2="304.39349999999996" stroke="#1e1e1e" stroke-width="1.1"/>
<line x1="433" y1="274.15" x2="433" y2="354.9" stroke="#1e1e1e" stroke-width="1.1"/>
<line x1="429.5" y1="354.4" x2="433" y2="354.4" stroke="#1e1e1e" stroke-width="1.1"/>
<text x="424.6" y="357.79999999999995" font-size="9.7" text-anchor="end" fill="#222" stroke="#222" stroke-width="0.18" >0</text>
<line x1="429.5" y1="328.65" x2="433" y2="328.65" stroke="#1e1e1e" stroke-width="1.1"/>
<text x="424.6" y="332.04999999999995" font-size="9.7" text-anchor="end" fill="#222" stroke="#222" stroke-width="0.18" >50</text>
<line x1="429.5" y1="302.9" x2="433" y2="302.9" stroke="#1e1e1e" stroke-width="1.1"/>
<text x="424.6" y="306.29999999999995" font-size="9.7" text-anchor="end" fill="#222" stroke="#222" stroke-width="0.18" >100</text>
<line x1="429.5" y1="277.15" x2="433" y2="277.15" stroke="#1e1e1e" stroke-width="1.1"/>
<text x="424.6" y="280.54999999999995" font-size="9.7" text-anchor="end" fill="#222" stroke="#222" stroke-width="0.18" >150</text>
<line x1="433" y1="354.4" x2="511.9" y2="354.4" stroke="#1e1e1e" stroke-width="1.2"/>
<line x1="445.2" y1="354.4" x2="445.2" y2="357.9" stroke="#1e1e1e" stroke-width="1.1"/>
<line x1="463.25" y1="354.4" x2="463.25" y2="357.9" stroke="#1e1e1e" stroke-width="1.1"/>
<line x1="481.3" y1="354.4" x2="481.3" y2="357.9" stroke="#1e1e1e" stroke-width="1.1"/>
<line x1="499.4" y1="354.4" x2="499.4" y2="357.9" stroke="#1e1e1e" stroke-width="1.1"/>
<text transform="translate(449.00,368.00) rotate(-45)" font-size="9.3" text-anchor="end" fill="#222" stroke="#222" stroke-width="0.18">CTRL</text>
<text transform="translate(467.05,368.00) rotate(-45)" font-size="9.3" text-anchor="end" fill="#222" stroke="#222" stroke-width="0.18">Anti-TFPI</text>
<text transform="translate(485.10,368.00) rotate(-45)" font-size="9.3" text-anchor="end" fill="#222" stroke="#222" stroke-width="0.18">Andexanet</text>
<text transform="translate(503.20,368.00) rotate(-45)" font-size="9.3" text-anchor="end" fill="#222" stroke="#222" stroke-width="0.18">Andexanet + Anti-TFPI</text>
<text transform="translate(401.5,315.6) rotate(-90)" x="-35.80" y="0" font-size="10.2" textLength="71.6" lengthAdjust="spacingAndGlyphs" fill="#222" stroke="#222" stroke-width="0.35">Thrombin peak (nM)</text>
<polyline points="463.2,291.7 463.2,288.5 499.4,288.5 499.4,291.7" fill="none" stroke="#1e1e1e" stroke-width="1.1"/>
<polyline points="463.2,298.7 463.2,295.5 478.8,295.5 478.8,298.7" fill="none" stroke="#1e1e1e" stroke-width="1.1"/>
<polyline points="484.1,298.7 484.1,295.5 499.4,295.5 499.4,298.7" fill="none" stroke="#1e1e1e" stroke-width="1.1"/>
<text x="481.5" y="286.8" font-size="9.5" text-anchor="middle" fill="#222" stroke="#222" stroke-width="0.18" >N.S.</text>
<rect x="0.5" y="0.5" width="519" height="443" fill="none" stroke="#333" stroke-width="1"/>
</svg></body></html>
